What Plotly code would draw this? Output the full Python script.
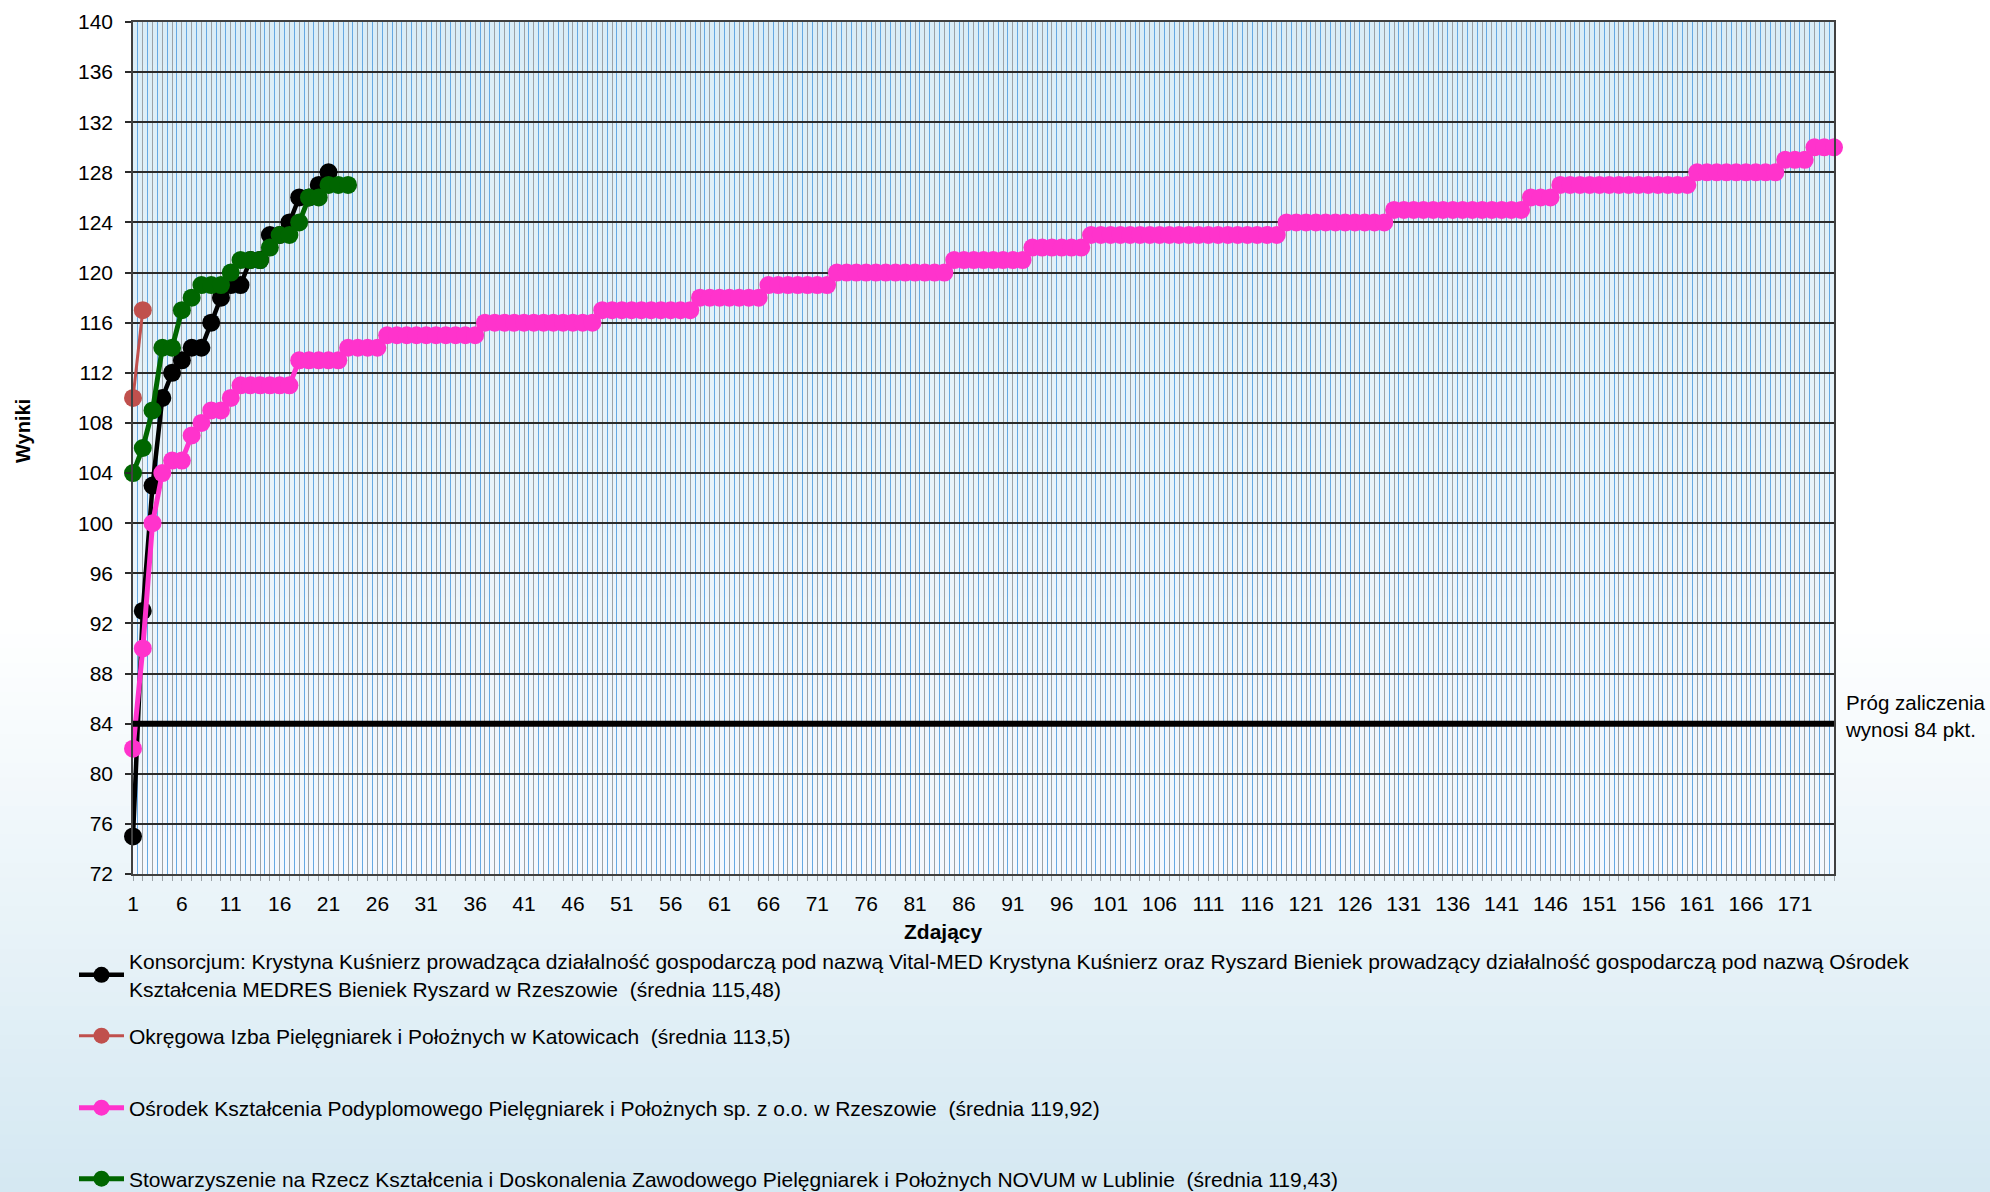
import plotly.graph_objects as go

# ---------------- data ----------------
zdajacy = list(range(1, 176))  # categories (Zdający)

konsorcjum = [75, 93, 103, 110, 112, 113, 114, 114, 116, 118, 119, 119, 121, 121,
              123, 123, 124, 126, 126, 127, 128]

okregowa = [110, 117]

osrodek = [82, 90, 100, 104, 105, 105, 107, 108, 109, 109, 110,
           111, 111, 111, 111, 111, 111,
           113, 113, 113, 113, 113,
           114, 114, 114, 114,
           115, 115, 115, 115, 115, 115, 115, 115, 115, 115,
           116, 116, 116, 116, 116, 116, 116, 116, 116, 116, 116, 116,
           117, 117, 117, 117, 117, 117, 117, 117, 117, 117,
           118, 118, 118, 118, 118, 118, 118,
           119, 119, 119, 119, 119, 119, 119,
           120, 120, 120, 120, 120, 120, 120, 120, 120, 120, 120, 120,
           121, 121, 121, 121, 121, 121, 121, 121,
           122, 122, 122, 122, 122, 122,
           123, 123, 123, 123, 123, 123, 123, 123, 123, 123,
           123, 123, 123, 123, 123, 123, 123, 123, 123, 123,
           124, 124, 124, 124, 124, 124, 124, 124, 124, 124, 124,
           125, 125, 125, 125, 125, 125, 125, 125, 125, 125, 125, 125, 125, 125,
           126, 126, 126,
           127, 127, 127, 127, 127, 127, 127, 127, 127, 127, 127, 127, 127, 127,
           128, 128, 128, 128, 128, 128, 128, 128, 128,
           129, 129, 129,
           130, 130, 130]

novum = [104, 106, 109, 114, 114, 117, 118, 119, 119, 119, 120, 121, 121, 121,
         122, 123, 123, 124, 126, 126, 127, 127, 127]

prog_zaliczenia = 84

nazwy = [
    "Konsorcjum: Krystyna Kuśnierz prowadząca działalność gospodarczą pod nazwą Vital-MED Krystyna Kuśnierz "
    "oraz Ryszard Bieniek prowadzący działalność gospodarczą pod nazwą Ośrodek<br>"
    "Kształcenia MEDRES Bieniek Ryszard w Rzeszowie \u00a0(średnia 115,48)",
    "Okręgowa Izba Pielęgniarek i Położnych w Katowicach \u00a0(średnia 113,5)",
    "Ośrodek Kształcenia Podyplomowego Pielęgniarek i Położnych sp. z o.o. w Rzeszowie \u00a0(średnia 119,92)",
    "Stowarzyszenie na Rzecz Kształcenia i Doskonalenia Zawodowego Pielęgniarek i Położnych NOVUM w Lublinie \u00a0(średnia 119,43)",
]

y_min, y_max, y_step = 72, 140, 4

# ---------------- layout geometry ----------------
W, H = 1990, 1192
ML, MR, MT, MB = 133, 156, 22, 318
PW = W - ML - MR
PH = H - MT - MB
FONT = "Liberation Sans, Arial, sans-serif"


def px_x(p):
    return (p - ML) / PW


def px_y(p):
    return (H - MB - p) / PH


def lerp_col(c0, c1, t):
    return "rgb(%d,%d,%d)" % tuple(round(a + (b - a) * t) for a, b in zip(c0, c1))


fig = go.Figure()

series = [
    (konsorcjum, "#000000", 4.5, 18, "legend"),
    (okregowa, "#c0504d", 3, 18, "legend2"),
    (osrodek, "#ff33cc", 5, 18, "legend3"),
    (novum, "#006600", 5, 18, "legend4"),
]
for (vals, col, lw, ms, lg), name in zip(series, nazwy):
    fig.add_trace(go.Scatter(
        x=zdajacy[:len(vals)], y=vals, name=name, mode="lines+markers",
        line=dict(color=col, width=lw),
        marker=dict(color=col, size=ms, symbol="circle"),
        legend=lg, cliponaxis=False,
    ))

fig.add_trace(go.Scatter(
    x=[zdajacy[0], zdajacy[-1]], y=[prog_zaliczenia, prog_zaliczenia],
    mode="lines", line=dict(color="#000000", width=6), showlegend=False,
    hoverinfo="skip",
))

shapes = []
# page gradient (white -> light blue at bottom)
n = 40
g0, g1 = 620, H
for k in range(n):
    a = g0 + (g1 - g0) * k / n
    b = g0 + (g1 - g0) * (k + 1) / n + 1
    shapes.append(dict(type="rect", xref="paper", yref="paper",
                       x0=px_x(0), x1=px_x(W), y0=px_y(b), y1=px_y(a),
                       fillcolor=lerp_col((255, 255, 255), (212, 232, 242), (k + 0.5) / n),
                       line=dict(width=0), layer="below"))
# plot area gradient
n2 = 40
for k in range(n2):
    shapes.append(dict(type="rect", xref="paper", yref="paper",
                       x0=0, x1=1, y0=1 - (k + 1) / n2 - 0.002, y1=1 - k / n2,
                       fillcolor=lerp_col((218, 237, 247), (244, 248, 253), (k + 0.5) / n2),
                       line=dict(width=0), layer="below"))

tick_text = [str(z) if (z - 1) % 5 == 0 else "" for z in zdajacy]

fig.update_layout(
    width=W, height=H,
    margin=dict(l=ML, r=MR, t=MT, b=MB, autoexpand=False),
    paper_bgcolor="white", plot_bgcolor="rgba(0,0,0,0)",
    font=dict(family=FONT, size=21, color="#000000"),
    shapes=shapes,
    xaxis=dict(
        range=[zdajacy[0], zdajacy[-1]], tickmode="array", tickvals=zdajacy, ticktext=tick_text,
        showgrid=True, gridcolor="#9ba2a7", gridwidth=1,
        ticks="outside", ticklen=5, tickcolor="#9ba2a7", tickwidth=1,
        showline=True, linecolor="#404040", linewidth=1.5, mirror=True,
        tickfont=dict(size=21, family=FONT, color="#000"), zeroline=False,
        ticklabelstandoff=5,
        minor=dict(tickmode="array", tickvals=[z + 0.5 for z in zdajacy[:-1]],
                   showgrid=True, gridcolor="#66a9e3", gridwidth=1, ticks=""),
    ),
    yaxis=dict(
        range=[y_min, y_max], tickmode="linear", tick0=y_min, dtick=y_step,
        showgrid=True, gridcolor="#2b2b2b", gridwidth=1.5,
        ticks="outside", ticklen=6, tickcolor="#2b2b2b", tickwidth=1.5,
        showline=True, linecolor="#404040", linewidth=1.5, mirror=True,
        tickfont=dict(size=21, family=FONT, color="#000"), zeroline=False,
        ticklabelstandoff=8,
    ),
    annotations=[
        dict(text="<b>Wyniki</b>", xref="paper", yref="paper", x=px_x(23), y=px_y(431),
             xanchor="center", yanchor="middle",
             textangle=-90, showarrow=False, font=dict(size=20, family=FONT)),
        dict(text="<b>Zdający</b>", xref="paper", yref="paper", x=px_x(943), y=px_y(931),
             xanchor="center", yanchor="middle",
             showarrow=False, font=dict(size=21, family=FONT)),
        dict(text="Próg zaliczenia<br>wynosi 84 pkt.", xref="paper", yref="paper",
             x=px_x(1843), y=px_y(716), xanchor="left", yanchor="middle", align="left",
             showarrow=False, font=dict(size=20.5, family=FONT)),
    ],
    hovermode=False,
)

legend_centers = [975, 1036, 1108, 1179]
for i, c in enumerate(legend_centers):
    key = "legend" if i == 0 else "legend%d" % (i + 1)
    fig.update_layout(**{key: dict(
        x=px_x(74), y=px_y(c), xanchor="left", yanchor="middle",
        bgcolor="rgba(0,0,0,0)", borderwidth=0,
        font=dict(size=21, family=FONT, color="#000"),
        itemwidth=45, tracegroupgap=0,
    )})

fig.write_html("out.html", include_plotlyjs=True, full_html=True,
               config={"responsive": False, "displayModeBar": False},
               post_script="document.body.style.margin='0';")
